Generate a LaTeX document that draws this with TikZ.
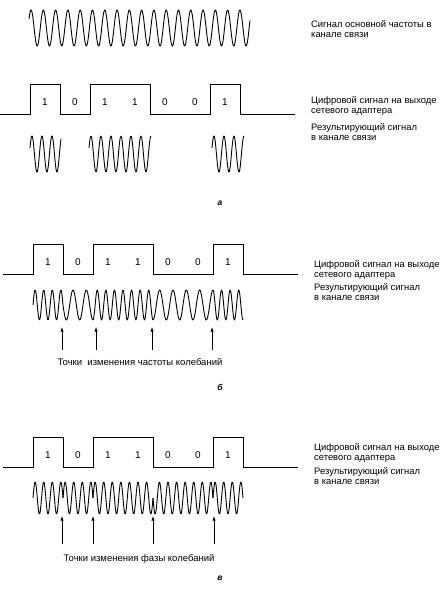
\documentclass[tikz,border=0pt]{standalone}
\usepackage{fontspec}
\setmainfont{Liberation Sans}
\usetikzlibrary{arrows.meta}

% digital signal 1011001 with the bit digits, local coords: top 0, base 30
\newcommand\bitline[1]{%
  \draw[dig] (0,30) -- (30,30) -- (30,0) -- (60,0) -- (60,30) -- (90,30)
    -- (90,0) -- (150,0) -- (150,30) -- (210,30) -- (210,0) -- (240,0)
    -- (240,30) -- (295,30);
  \foreach \b [count=\i from 0] in {1,0,1,1,0,0,1}
    \node[bit] (#1\i) at (45+30*\i,18.5) {\b};
}

\begin{document}
\begin{tikzpicture}[
  x=1pt,y=-1pt,
  every node/.style={inner sep=0pt},
  wave/.style={line width=0.9pt,line join=round},
  dig/.style={line width=0.8pt},
  bit/.style={font=\fontsize{10}{10}\selectfont},
  txt/.style={anchor=north west,align=left,font=\fontsize{9.4}{10.8}\selectfont},
  ptslabel/.style={font=\fontsize{9.5}{10}\selectfont},
  sub/.style={font=\fontsize{8.5}{8.5}\selectfont\bfseries\itshape},
  ar/.style={-{Latex[length=4.5pt,width=3.2pt]},line width=0.7pt}
]
\useasboundingbox (0,0) rectangle (443,591);

% ---- a ----
\draw[wave] plot[domain=29:250,samples=400,smooth] (\x,{28-18*sin(29.3*(\x-29)+30)});
\node[txt] (ta1) at (311,20) {Сигнал основной частоты в\\канале связи};

\begin{scope}[shift={(0,84)}]
  \bitline{a}
\end{scope}
\node[txt] (ta2) at (311,96) {Цифровой сигнал на выходе\\сетевого адаптера};

\foreach \s/\e in {30/61,89/151,212/244}
  \draw[wave] plot[domain=\s:\e,samples=80,smooth] (\x,{154-18*sin(36*(\x-\s)+20)});
\node[txt] (ta3) at (311,123) {Результирующий сигнал\\в канале связи};
\node[sub] (la) at (220,203) {а};

% ---- b ----
\begin{scope}[shift={(3,244)}]
  \bitline{b}
\end{scope}
\node[txt] (tb1) at (314,260) {Цифровой сигнал на выходе\\сетевого адаптера};

\def\ph{0}
\foreach \f [count=\i from 0] in {3.5,2.25,3.5,3.5,2.25,2.25,3.5}{
  \draw[wave] plot[domain=0:30,samples=50,smooth] ({33+30*\i+\x},{305-15*sin(\ph+12*\f*\x)});
  \pgfmathsetmacro\nph{mod(\ph+360*\f,360)}
  \xdef\ph{\nph}
}
\node[txt] (tb2) at (314,283) {Результирующий сигнал\\в канале связи};

\foreach \x [count=\i] in {62,96,152,212}{
  \coordinate (fs\i) at (\x,350);
  \coordinate (fe\i) at (\x,327);
  \draw[ar] (fs\i) -- (fe\i);
}
\node[ptslabel] (fl) at (140,362) {Точки\ \ изменения частоты колебаний};
\node[sub] (lb) at (220,387) {б};

% ---- c ----
\begin{scope}[shift={(3,437)}]
  \bitline{c}
\end{scope}
\node[txt] (tc1) at (314,443) {Цифровой сигнал на выходе\\сетевого адаптера};

\foreach \p [count=\i from 0] in {0,180,0,0,180,180,0}
  \draw[wave] plot[domain=0:30,samples=50,smooth] ({33+30*\i+\x},{498-16*sin(42*(30*\i+\x)+\p)});
\node[txt] (tc2) at (314,467) {Результирующий сигнал\\в канале связи};

\foreach \x [count=\i] in {62,93,153,214}{
  \coordinate (ps\i) at (\x,544);
  \coordinate (pe\i) at (\x,516);
  \draw[ar] (ps\i) -- (pe\i);
}
\node[ptslabel] (pl) at (139,559) {Точки изменения фазы колебаний};
\node[sub] (lc) at (220,578) {в};
\end{tikzpicture}
\end{document}
